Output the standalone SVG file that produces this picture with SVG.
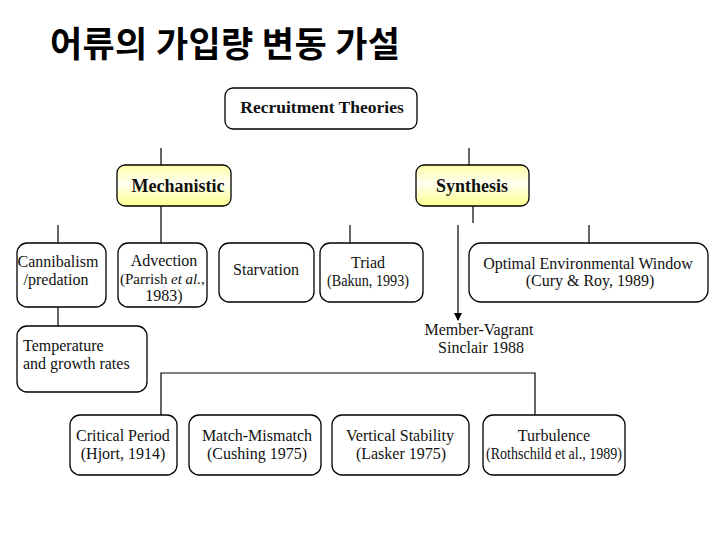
<svg xmlns="http://www.w3.org/2000/svg" width="720" height="540" viewBox="0 0 720 540">
<defs>
<linearGradient id="yel" x1="0" y1="0" x2="0" y2="1">
<stop offset="0" stop-color="#ffffa8"/>
<stop offset="0.45" stop-color="#fffff2"/>
<stop offset="1" stop-color="#ffff90"/>
</linearGradient>
<marker id="arr" markerWidth="8" markerHeight="8" refX="7" refY="4" orient="auto" markerUnits="userSpaceOnUse">
<path d="M0,0 L8,4 L0,8 Z" fill="#000"/>
</marker>
<style>
.box{fill:#fff;stroke:#000;stroke-width:1.3}
.ybox{fill:url(#yel);stroke:#000;stroke-width:1.3}
.t{font-family:"Liberation Serif","Times New Roman",serif;font-size:16px;fill:#111;text-anchor:middle}
.s{font-family:"Liberation Serif","Times New Roman",serif;font-size:15px;fill:#111;text-anchor:start}
.b{font-family:"Liberation Serif","Times New Roman",serif;font-weight:bold;fill:#111;text-anchor:middle}
.ln{fill:none;stroke:#000;stroke-width:1.2}
</style>
</defs>
<rect width="720" height="540" fill="#fff"/>
<text x="50" y="57" font-family="'Noto Sans CJK KR','Noto Sans',sans-serif" font-weight="bold" font-size="35" fill="#000" textLength="350" lengthAdjust="spacing">어류의 가입량 변동 가설</text>

<g id="connectors">
<path class="ln" d="M161 148 V165"/>
<path class="ln" d="M469 148 V165"/>
<path class="ln" d="M161 206 V243"/>
<path class="ln" d="M473 206 V223"/>
<path class="ln" d="M58 225 V243"/>
<path class="ln" d="M350 225 V243"/>
<path class="ln" d="M589 225 V243"/>
<path class="ln" d="M458 225 V320" marker-end="url(#arr)"/>
<path class="ln" d="M58 307 V326"/>
<path class="ln" d="M161 415 V373 H535 V415"/>
</g>

<g id="recruitment">
<rect class="box" x="225" y="88" width="192" height="41" rx="8"/>
<text class="b" x="322" y="113" font-size="17.5">Recruitment Theories</text>
</g>
<g id="mechanistic">
<rect class="ybox" x="117" y="165" width="114" height="41" rx="8"/>
<text class="b" x="178" y="192" font-size="18">Mechanistic</text>
</g>
<g id="synthesis">
<rect class="ybox" x="416" y="165" width="113" height="41" rx="8"/>
<text class="b" x="472" y="192" font-size="18">Synthesis</text>
</g>
<g id="cannibalism">
<rect class="box" x="17" y="243" width="89" height="64" rx="10"/>
<text class="t" x="58" y="267">Cannibalism</text>
<text class="t" x="56" y="285">/predation</text>
</g>
<g id="advection">
<rect class="box" x="118" y="243" width="89" height="64" rx="10"/>
<text class="t" x="164" y="266">Advection</text>
<text class="s" x="120" y="284">(Parrish</text>
<text class="s" x="171" y="284" font-style="italic">et al.</text>
<text class="s" x="201" y="284">,</text>
<text class="t" x="164" y="301" font-size="15">1983)</text>
</g>
<g id="starvation">
<rect class="box" x="219" y="243" width="95" height="59" rx="10"/>
<text class="t" x="266" y="275">Starvation</text>
</g>
<g id="triad">
<rect class="box" x="320" y="243" width="103" height="59" rx="10"/>
<text class="t" x="368" y="268">Triad</text>
<text class="t" x="368" y="286" textLength="82" lengthAdjust="spacingAndGlyphs">(Bakun, 1993)</text>
</g>
<g id="oew">
<rect class="box" x="469" y="243" width="239" height="59" rx="12"/>
<text class="t" x="588" y="269">Optimal Environmental Window</text>
<text class="t" x="590" y="286">(Cury &amp; Roy, 1989)</text>
</g>
<g id="member-vagrant">
<text class="t" x="479" y="335">Member-Vagrant</text>
<text class="t" x="481" y="353">Sinclair 1988</text>
</g>
<g id="temperature">
<rect class="box" x="17" y="326" width="130" height="66" rx="10"/>
<text class="t" x="23" y="351" style="text-anchor:start">Temperature</text>
<text class="t" x="23" y="369" style="text-anchor:start">and growth rates</text>
</g>
<g id="critical">
<rect class="box" x="70" y="415" width="107" height="60" rx="10"/>
<text class="t" x="123" y="441">Critical Period</text>
<text class="t" x="123" y="459">(Hjort, 1914)</text>
</g>
<g id="match">
<rect class="box" x="189" y="415" width="132" height="60" rx="10"/>
<text class="t" x="257" y="441">Match-Mismatch</text>
<text class="t" x="257" y="459">(Cushing 1975)</text>
</g>
<g id="vertical">
<rect class="box" x="332" y="415" width="137" height="60" rx="10"/>
<text class="t" x="400" y="441">Vertical Stability</text>
<text class="t" x="401" y="459">(Lasker 1975)</text>
</g>
<g id="turbulence">
<rect class="box" x="483" y="415" width="142" height="60" rx="10"/>
<text class="t" x="554" y="441">Turbulence</text>
<text class="t" x="554" y="459" textLength="136" lengthAdjust="spacingAndGlyphs">(Rothschild et al., 1989)</text>
</g>
</svg>
